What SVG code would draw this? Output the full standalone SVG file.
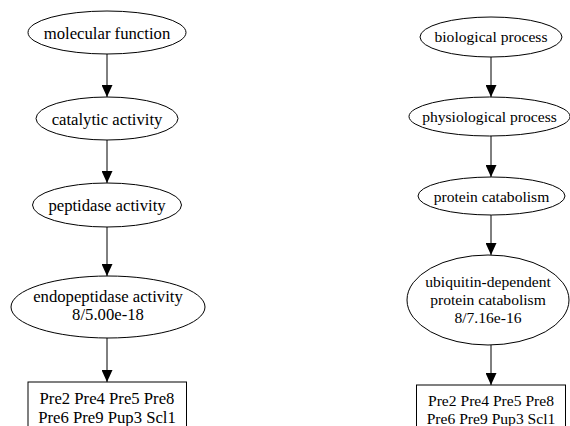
<svg xmlns="http://www.w3.org/2000/svg" width="570" height="426" viewBox="0 0 570 426">
<style>
.n ellipse, .n rect { fill: #fff; stroke: #000; stroke-width: 1; }
.e line { stroke: #000; stroke-width: 1; }
text { font-family: "Liberation Serif", Tinos, "Times New Roman", Times, "DejaVu Serif", serif; fill: #000; text-anchor: middle; }
.L { font-size: 16.7px; }
.R { font-size: 15.6px; }
</style>
<defs>
<marker id="ah" markerUnits="userSpaceOnUse" markerWidth="12" markerHeight="11" refX="12" refY="5.5" orient="auto">
<path d="M0,0 L12,5.5 L0,11 Z" fill="#000"/>
</marker>
</defs>
<rect width="570" height="426" fill="#fff"/>
<g id="edges" class="e">
<line x1="107" y1="54" x2="107" y2="97" marker-end="url(#ah)"/>
<line x1="107" y1="140" x2="107" y2="183" marker-end="url(#ah)"/>
<line x1="107" y1="227" x2="107" y2="276" marker-end="url(#ah)"/>
<line x1="107" y1="338" x2="107" y2="382" marker-end="url(#ah)"/>
<line x1="491" y1="57" x2="491" y2="97" marker-end="url(#ah)"/>
<line x1="491" y1="136" x2="491" y2="177" marker-end="url(#ah)"/>
<line x1="491" y1="215" x2="491" y2="255" marker-end="url(#ah)"/>
<line x1="491" y1="345" x2="491" y2="385" marker-end="url(#ah)"/>
</g>
<g id="mf" class="n"><ellipse cx="107" cy="32.5" rx="79" ry="21.5"/><text class="L" x="107" y="39">molecular function</text></g>
<g id="ca" class="n"><ellipse cx="107" cy="118.5" rx="71" ry="21.5"/><text class="L" x="107" y="125">catalytic activity</text></g>
<g id="pa" class="n"><ellipse cx="107" cy="205" rx="74.5" ry="22"/><text class="L" x="107" y="211">peptidase activity</text></g>
<g id="ea" class="n"><ellipse cx="108" cy="307" rx="97" ry="31"/><text class="L" x="108" y="302">endopeptidase activity</text><text class="L" x="108" y="320">8/5.00e-18</text></g>
<g id="lgenes" class="n"><rect x="28" y="382" width="158.5" height="50"/><text class="L" x="107" y="404">Pre2 Pre4 Pre5 Pre8</text><text class="L" x="107" y="423">Pre6 Pre9 Pup3 Scl1</text></g>
<g id="bp" class="n"><ellipse cx="491" cy="37" rx="71" ry="20"/><text class="R" x="491" y="42">biological process</text></g>
<g id="pp" class="n"><ellipse cx="489.5" cy="116.5" rx="80.5" ry="19.5"/><text class="R" x="489.5" y="122">physiological process</text></g>
<g id="pc" class="n"><ellipse cx="491.5" cy="196" rx="73.5" ry="19"/><text class="R" x="491.5" y="202">protein catabolism</text></g>
<g id="ub" class="n"><ellipse cx="488" cy="300" rx="81" ry="45"/><text class="R" x="488" y="287">ubiquitin-dependent</text><text class="R" x="488" y="305">protein catabolism</text><text class="R" x="488" y="323">8/7.16e-16</text></g>
<g id="rgenes" class="n"><rect x="416.5" y="385" width="149" height="48"/><text class="R" x="491" y="406">Pre2 Pre4 Pre5 Pre8</text><text class="R" x="491" y="424">Pre6 Pre9 Pup3 Scl1</text></g>
</svg>
